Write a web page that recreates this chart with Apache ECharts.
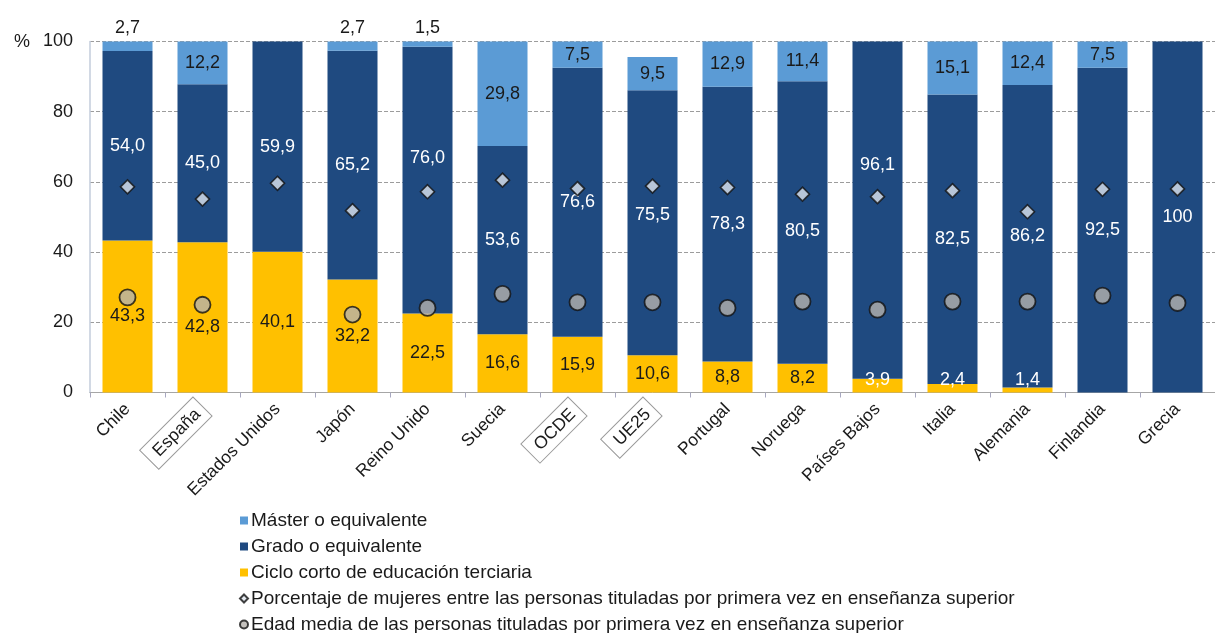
<!DOCTYPE html>
<html>
<head>
<meta charset="utf-8">
<script src="https://cdn.jsdelivr.net/npm/echarts@6/dist/echarts.min.js"></script>
<style>
  html, body { margin: 0; padding: 0; background: #ffffff; overflow: hidden; }
  #chart { width: 1215px; height: 633px; }
</style>
</head>
<body>
<div id="chart"></div>
<script>
// Distribución de titulados por primera vez en enseñanza superior, por nivel
const categories = ['Chile', 'España', 'Estados Unidos', 'Japón', 'Reino Unido', 'Suecia', 'OCDE', 'UE25',
  'Portugal', 'Noruega', 'Países Bajos', 'Italia', 'Alemania', 'Finlandia', 'Grecia'];
const master     = [2.7, 12.2, 0, 2.7, 1.5, 29.8, 7.5, 9.5, 12.9, 11.4, 0, 15.1, 12.4, 7.5, 0];
const grado      = [54.0, 45.0, 59.9, 65.2, 76.0, 53.6, 76.6, 75.5, 78.3, 80.5, 96.1, 82.5, 86.2, 92.5, 100];
const cicloCorto = [43.3, 42.8, 40.1, 32.2, 22.5, 16.6, 15.9, 10.6, 8.8, 8.2, 3.9, 2.4, 1.4, 0, 0];
const mujeresPct = [58.6, 55.1, 59.6, 51.8, 57.2, 60.5, 58.1, 58.8, 58.4, 56.5, 55.8, 57.5, 51.5, 57.9, 58.0];
const edadMedia  = [27.1, 25.0, null, 22.2, 24.1, 28.1, 25.7, 25.7, 24.1, 25.9, 23.6, 25.9, 25.9, 27.6, 25.5];
const boxedCategories = ['España', 'OCDE', 'UE25'];

const seriesNames = {
  master: 'Máster o equivalente',
  grado: 'Grado o equivalente',
  ciclo: 'Ciclo corto de educación terciaria',
  mujeres: 'Porcentaje de mujeres entre las personas tituladas por primera vez en enseñanza superior',
  edad: 'Edad media de las personas tituladas por primera vez en enseñanza superior'
};

const FONT = '"Liberation Sans", Arial, sans-serif';
const fmt = v => (v === 100 ? '100' : v.toFixed(1).replace('.', ','));
const labelFormatter = p => (p.value ? fmt(p.value) : '');

// vertical nudges so value labels clear the markers
const gradoNudge = { 'Reino Unido': -22, 'Noruega': 9, 'Países Bajos': -45, 'UE25': -8 };
const cicloNudge = { 'España': 10 };

const masterData = master.map(v => (v > 0 && v < 5)
  ? { value: v, label: { position: 'top', distance: 4 } }
  : v);
const gradoData = grado.map((v, i) => (gradoNudge[categories[i]] !== undefined)
  ? { value: v, label: { offset: [0, gradoNudge[categories[i]]] } }
  : v);
const cicloData = cicloCorto.map((v, i) => {
  if (v > 0 && v < 5) return { value: v, label: { position: 'insideBottom', distance: 3, color: '#ffffff' } };
  if (cicloNudge[categories[i]] !== undefined) return { value: v, label: { offset: [0, cicloNudge[categories[i]]] } };
  return v;
});

const chart = echarts.init(document.getElementById('chart'), null, { renderer: 'canvas' });

const barLabel = (color) => ({
  show: true,
  position: 'inside',
  formatter: labelFormatter,
  color: color,
  fontSize: 18,
  fontFamily: FONT
});

chart.setOption({
  animation: false,
  textStyle: { fontFamily: FONT },
  title: {
    text: '%',
    left: 14,
    top: 33,
    padding: 0,
    textStyle: { fontSize: 18, fontWeight: 'normal', color: '#1a1a1a', fontFamily: FONT }
  },
  grid: { left: 90, top: 41.5, width: 1136, height: 351, containLabel: false },
  legend: {
    orient: 'vertical',
    left: 239,
    top: 511,
    height: 140,
    padding: 0,
    itemWidth: 8,
    itemHeight: 8,
    itemGap: 7,
    selectedMode: false,
    textStyle: { fontSize: 19, lineHeight: 19, color: '#1a1a1a', fontFamily: FONT, padding: [0, 0, 0, -2] },
    data: [
      { name: seriesNames.master, icon: 'rect' },
      { name: seriesNames.grado, icon: 'rect' },
      { name: seriesNames.ciclo, icon: 'rect' },
      { name: seriesNames.mujeres },
      { name: seriesNames.edad }
    ]
  },
  xAxis: {
    type: 'category',
    data: categories,
    axisLine: { lineStyle: { color: '#a6a6a6', width: 1 } },
    axisTick: { show: true, length: 5, lineStyle: { color: '#a8a8c0' } },
    axisLabel: {
      rotate: 45,
      margin: 14,
      interval: 0,
      fontSize: 17.5,
      color: '#1a1a1a',
      fontFamily: FONT,
      formatter: name => boxedCategories.includes(name) ? '{box|' + name + '}' : name,
      rich: {
        box: {
          fontSize: 17.5,
          color: '#1a1a1a',
          fontFamily: FONT,
          borderColor: '#9a9a9a',
          borderWidth: 1,
          padding: [5, 7, 4, 9]
        }
      }
    }
  },
  yAxis: {
    type: 'value',
    min: 0,
    max: 100,
    interval: 20,
    axisLine: { show: true, lineStyle: { color: '#c3cddb', width: 1.5 } },
    axisTick: { show: false },
    axisLabel: { fontSize: 18, color: '#1a1a1a', margin: 17, fontFamily: FONT },
    splitLine: { show: true, lineStyle: { color: '#9c9c9c', width: 1, type: [4, 2] } }
  },
  series: [
    {
      name: seriesNames.ciclo,
      type: 'bar',
      stack: 'total',
      barWidth: 50,
      itemStyle: { color: '#ffc000' },
      label: barLabel('#1a1a1a'),
      data: cicloData
    },
    {
      name: seriesNames.grado,
      type: 'bar',
      stack: 'total',
      barWidth: 50,
      itemStyle: { color: '#1f4a80' },
      label: barLabel('#ffffff'),
      data: gradoData
    },
    {
      name: seriesNames.master,
      type: 'bar',
      stack: 'total',
      barWidth: 50,
      itemStyle: { color: '#5b9bd5' },
      label: barLabel('#1a1a1a'),
      data: masterData
    },
    {
      name: seriesNames.mujeres,
      type: 'scatter',
      symbol: 'diamond',
      symbolSize: 14,
      z: 5,
      itemStyle: { color: '#dfe5ee', borderColor: '#111111', borderWidth: 1.6 },
      data: mujeresPct
    },
    {
      name: seriesNames.edad,
      type: 'scatter',
      symbol: 'circle',
      symbolSize: 16,
      z: 5,
      itemStyle: { color: '#b5b2ad', borderColor: '#111111', borderWidth: 1.8 },
      data: edadMedia
    }
  ]
});
</script>
</body>
</html>
